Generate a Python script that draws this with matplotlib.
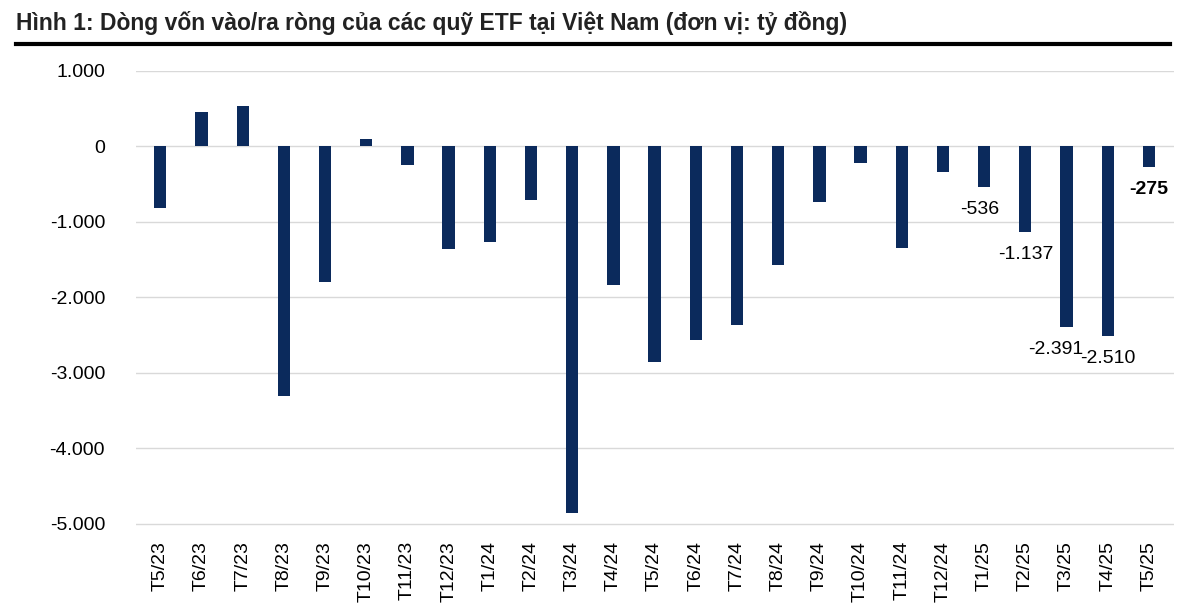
import matplotlib
matplotlib.use("Agg")
import matplotlib.pyplot as plt
plt.rcParams["font.family"] = "Liberation Sans"

categories = ["T5/23","T6/23","T7/23","T8/23","T9/23","T10/23","T11/23","T12/23",
              "T1/24","T2/24","T3/24","T4/24","T5/24","T6/24","T7/24","T8/24",
              "T9/24","T10/24","T11/24","T12/24","T1/25","T2/25","T3/25","T4/25","T5/25"]
values = [-820, 460, 540, -3300, -1800, 100, -240, -1360,
          -1270, -715, -4860, -1840, -2850, -2560, -2370, -1570,
          -730, -225, -1350, -340, -536, -1137, -2391, -2510, -275]
labelled = {"T1/25": "-536", "T2/25": "-1.137", "T3/25": "-2.391", "T4/25": "-2.510", "T5/25": "-275"}
label_dx = {"T1/25": -0.1, "T2/25": 0.0, "T3/25": -0.25, "T4/25": 0.0, "T5/25": 0.0}

fig = plt.figure(figsize=(12, 6.11), dpi=100)
fig.text(0.013, 0.962, "Hình 1: Dòng vốn vào/ra ròng của các quỹ ETF tại Việt Nam (đơn vị: tỷ đồng)",
         fontsize=16.5, fontweight="bold", ha="left", va="center", color="#222222")
fig.add_artist(plt.Line2D([0.013, 0.975], [0.928, 0.928], color="black", lw=3))

ax = fig.add_axes([0.113, 0.124, 0.865, 0.76])
x = list(range(len(categories)))
ax.bar(x, values, width=0.3, color="#0b2a5c", zorder=3)
ax.set_ylim(-5150, 1000)
ax.set_xlim(-0.6, len(categories) - 0.4)
ax.set_yticks([1000, 0, -1000, -2000, -3000, -4000, -5000])
ax.set_yticklabels(["1.000", "0", "-1.000", "-2.000", "-3.000", "-4.000", "-5.000"], fontsize=14)
ax.yaxis.grid(True, color="#d9d9d9", lw=1, zorder=0)
ax.set_xticks(x)
ax.set_xticklabels(categories, rotation=90, fontsize=14)
ax.tick_params(axis="x", length=0, pad=4)
for s in ax.spines.values():
    s.set_visible(False)
ax.tick_params(axis="y", length=0, pad=22)

for i, c in enumerate(categories):
    if c in labelled:
        v = values[i]
        bold = "bold" if c == "T5/25" else "normal"
        ax.text(i + label_dx[c], v - 300, labelled[c], fontsize=14, fontweight=bold,
                ha="center", va="center")

fig.savefig("out.png", dpi=100)
